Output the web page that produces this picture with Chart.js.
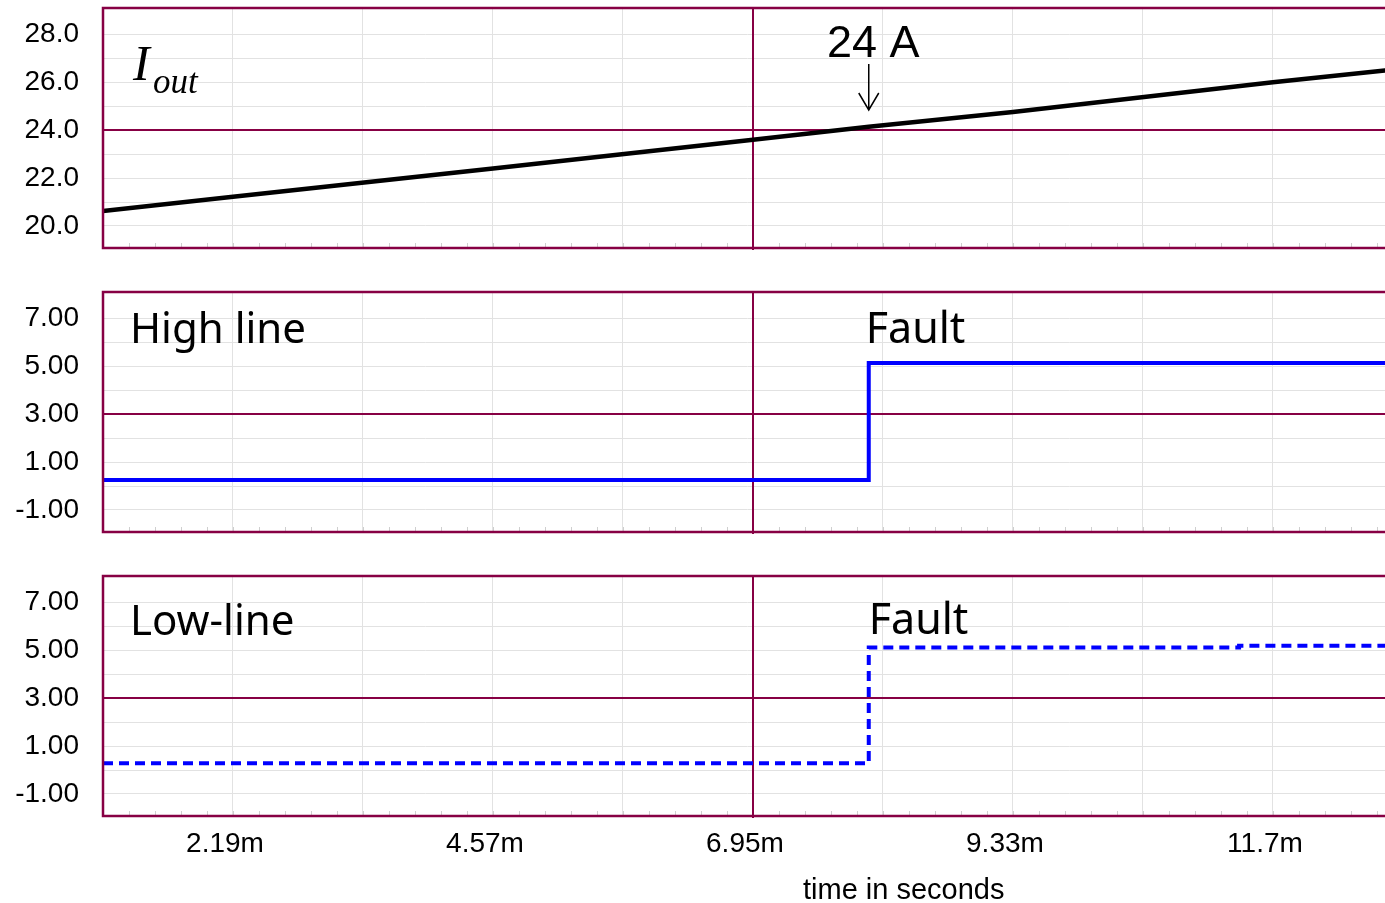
<!DOCTYPE html>
<html>
<head>
<meta charset="utf-8">
<title>Iout and fault lines</title>
<script src="https://cdn.jsdelivr.net/npm/chart.js@4.4.1/dist/chart.umd.min.js"></script>
<style>
  body { margin: 0; overflow: hidden; background: #fff; }
  #wrap { position: relative; width: 1385px; height: 903px; overflow: hidden; }
  canvas { position: absolute; left: 0; top: 0; }
</style>
</head>
<body>
<div id="wrap">
  <canvas id="iout" width="1392" height="903"></canvas>
  <canvas id="high" width="1392" height="903"></canvas>
  <canvas id="low" width="1392" height="903"></canvas>
</div>
<script>
'use strict';
// time axis (ms)
var xTicks = [1.00, 2.19, 3.38, 4.57, 5.76, 6.95, 8.14, 9.33, 10.52, 11.71];
var xLabels = ['', '2.19m', '', '4.57m', '', '6.95m', '', '9.33m', '', '11.7m'];
var xMark = 6.95;

// Iout panel
var iTime = [1.00, 2.19, 4.57, 6.95, 8.01, 9.33, 11.71, 12.80];
var iOut = [20.63, 21.22, 22.40, 23.60, 24.15, 24.76, 26.01, 26.53];
var iTicks = [20, 21, 22, 23, 24, 25, 26, 27, 28];
var iLabels = ['20.0', '', '22.0', '', '24.0', '', '26.0', '', '28.0'];
var iMark = 24;

// high line / low line panels
var hiTime = [1.00, 8.01, 12.80];
var hiVal = [0.25, 5.14, 5.14];
var loTime = [1.00, 8.01, 11.40, 12.80];
var loVal = [0.28, 5.11, 5.19, 5.19];
var vTicks = [-1, 0, 1, 2, 3, 4, 5, 6, 7];
var vLabels = ['-1.00', '', '1.00', '', '3.00', '', '5.00', '', '7.00'];
var vMark = 3;

var faultTime = 8.01;

var maroon = '#870044';
var light = '#e2e2e2';
var tickFont = {family: 'Liberation Sans', size: 28};

function toPoints(xs, ys){
  var pts = [];
  for(var i = 0; i < xs.length; i++){
    pts.push({x: xs[i], y: ys[i]});
  }
  return pts;
}

function xScale(showLabels){
  return {
    type: 'linear', min: 1.00, max: 12.80,
    afterBuildTicks: function(s){ s.ticks = xTicks.map(function(v){ return {value: v}; }); },
    afterFit: function(s){
      s.height = showLabels ? 87 : 0;
      s.paddingLeft = 0; s.paddingRight = 0;
    },
    border: {display: false},
    grid: {
      drawTicks: false,
      color: function(c){ return c.tick && c.tick.value === xMark ? 'rgba(0,0,0,0)' : light; }
    },
    ticks: {
      display: showLabels, autoSkip: false, maxRotation: 0, padding: 11, labelOffset: -8,
      color: '#000', font: tickFont,
      callback: function(v, i){ return xLabels[i]; }
    }
  };
}

function yScale(min, max, ticks, labels, mark){
  return {
    min: min, max: max,
    afterBuildTicks: function(s){ s.ticks = ticks.map(function(v){ return {value: v}; }); },
    afterFit: function(s){
      s.width = 103;
      s.paddingTop = 0; s.paddingBottom = 0;
    },
    border: {display: false},
    grid: {
      drawTicks: false,
      color: function(c){ return c.tick && c.tick.value === mark ? 'rgba(0,0,0,0)' : light; }
    },
    ticks: {
      autoSkip: false, padding: 24, color: '#000', font: tickFont,
      callback: function(v, i){ return labels[i]; }
    }
  };
}

// dark cursor lines, box round the plot, small ticks along the bottom
var framePlugin = {
  id: 'frame',
  beforeDatasetsDraw: function(chart, args, opts){
    var ctx = chart.ctx, a = chart.chartArea, xs = chart.scales.x, ys = chart.scales.y;
    var step = (xTicks[1] - xTicks[0]) / 5;
    ctx.save();
    ctx.strokeStyle = '#cfcfcf';
    ctx.lineWidth = 1;
    ctx.beginPath();
    for(var v = xTicks[0]; v <= xs.max; v += step){
      var px = Math.round(xs.getPixelForValue(v)) + 0.5;
      ctx.moveTo(px, a.bottom);
      ctx.lineTo(px, a.bottom - 5);
    }
    ctx.stroke();
    ctx.strokeStyle = maroon;
    ctx.lineWidth = 2;
    ctx.beginPath();
    var mx = Math.round(xs.getPixelForValue(xMark));
    ctx.moveTo(mx, a.top);
    ctx.lineTo(mx, a.bottom + 2);
    var my = Math.round(ys.getPixelForValue(opts.yMark));
    ctx.moveTo(a.left, my);
    ctx.lineTo(a.right, my);
    ctx.stroke();
    ctx.restore();
  },
  afterDraw: function(chart){
    var ctx = chart.ctx, a = chart.chartArea;
    ctx.save();
    ctx.strokeStyle = maroon;
    ctx.lineWidth = 2.5;
    ctx.strokeRect(a.left, a.top, a.right - a.left, a.bottom - a.top);
    ctx.restore();
  }
};

function makeChart(id, data, yOpts, mark, padTop, padBottom, showX, notes){
  return new Chart(document.getElementById(id), {
    type: 'line',
    data: {datasets: [data]},
    options: {
      responsive: false,
      animation: false,
      events: [],
      layout: {padding: {left: 0, right: 0, top: padTop, bottom: padBottom}},
      plugins: {legend: {display: false}, tooltip: {enabled: false}, frame: {yMark: mark}},
      scales: {x: xScale(showX), y: yOpts}
    },
    plugins: [framePlugin, {id: 'notes', afterDraw: notes}]
  });
}

makeChart('iout', {
  data: toPoints(iTime, iOut),
  borderColor: '#000', borderWidth: 4.5, pointRadius: 0, tension: 0
}, yScale(19.08, 29.11, iTicks, iLabels, iMark), iMark, 8, 655, false, function(chart){
  var ctx = chart.ctx;
  var ax = chart.scales.x.getPixelForValue(faultTime);
  ctx.save();
  ctx.fillStyle = '#000';
  ctx.font = 'italic 50px "Liberation Serif"';
  ctx.fillText('I', 133, 80);
  ctx.font = 'italic 35px "Liberation Serif"';
  ctx.fillText('out', 153, 93);
  ctx.font = '45px "Liberation Sans"';
  ctx.fillText('24 A', 827, 57);
  ctx.strokeStyle = '#000';
  ctx.lineWidth = 1.5;
  ctx.beginPath();
  ctx.moveTo(ax, 64);
  ctx.lineTo(ax, 110);
  ctx.moveTo(ax - 10, 93);
  ctx.lineTo(ax, 110);
  ctx.lineTo(ax + 10, 93);
  ctx.stroke();
  ctx.restore();
});

makeChart('high', {
  data: toPoints(hiTime, hiVal),
  borderColor: '#0000ff', borderWidth: 4, pointRadius: 0, stepped: true
}, yScale(-1.92, 8.10, vTicks, vLabels, vMark), vMark, 292, 371, false, function(chart){
  var ctx = chart.ctx;
  var ax = chart.scales.x.getPixelForValue(faultTime);
  ctx.save();
  ctx.fillStyle = '#000';
  ctx.font = '42px "Noto Sans"';
  ctx.fillText('High line', 130, 343);
  ctx.font = '43px "Noto Sans"';
  ctx.fillText('Fault', ax - 3, 343);
  ctx.restore();
});

makeChart('low', {
  data: toPoints(loTime, loVal),
  borderColor: '#0000ff', borderWidth: 4, borderDash: [10, 6], pointRadius: 0, stepped: true
}, yScale(-1.92, 8.10, vTicks, vLabels, vMark), vMark, 576, 0, true, function(chart){
  var ctx = chart.ctx;
  var ax = chart.scales.x.getPixelForValue(faultTime);
  ctx.save();
  ctx.fillStyle = '#000';
  ctx.font = '42px "Noto Sans"';
  ctx.fillText('Low-line', 130, 635);
  ctx.font = '43px "Noto Sans"';
  ctx.fillText('Fault', ax, 634);
  ctx.font = '29px "Liberation Sans"';
  ctx.fillText('time in seconds', 803, 899);
  ctx.restore();
});
</script>
</body>
</html>
